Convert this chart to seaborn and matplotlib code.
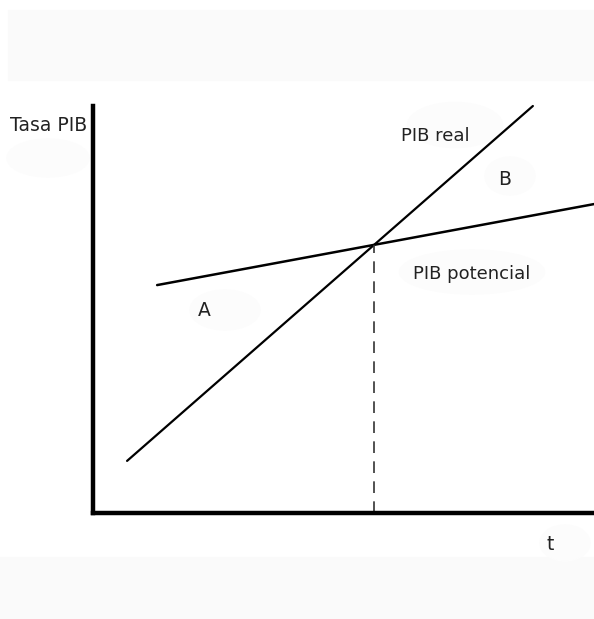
import matplotlib
matplotlib.use("Agg")
import matplotlib.pyplot as plt
from matplotlib.patches import Rectangle, Ellipse
import seaborn as sns

# curve endpoints (t, tasa)
t_real = [0.68, 8.78]
pib_real = [1.28, 10.0]
t_pot = [1.28, 10.0]
pib_pot = [5.60, 7.59]
# where the two cross
t_cross = 5.61
y_cross = 6.59

sns.set_style("white")
plt.rcParams['font.family'] = ['DejaVu Sans']

fig = plt.figure(figsize=(5.94, 6.19), dpi=100)
W, H = 594, 619

# faint grey bands from the scanned image
fig.add_artist(Rectangle((8 / W, 1 - 80 / H), 1 - 8 / W, 70 / H,
                         transform=fig.transFigure, color="#fafafa", zorder=0))
fig.add_artist(Rectangle((0, 0), 1, (H - 557) / H,
                         transform=fig.transFigure, color="#fafafa", zorder=0))
for cx, cy, w, h in [(48, 158, 82, 38), (455, 125, 95, 45), (510, 176, 50, 38),
                     (472, 272, 145, 44), (225, 310, 70, 40), (565, 543, 50, 36)]:
    fig.add_artist(Ellipse((cx / W, 1 - cy / H), w / W, h / H,
                           transform=fig.transFigure, color="#fcfcfc", zorder=0))

ax = fig.add_axes([93 / W, 1 - 513 / H, 1 - 93 / W, (513 - 60) / H])
ax.set_facecolor("none")

sns.lineplot(x=t_real, y=pib_real, color="black", linewidth=1.6, ax=ax)
sns.lineplot(x=t_pot, y=pib_pot, color="black", linewidth=1.8, ax=ax)
ax.plot([t_cross, t_cross], [0, y_cross], color="#333333", linewidth=1.2,
        dashes=(7, 5))

ax.set_xlim(0, 10)
ax.set_ylim(0, (513 - 60) / 40.7)
for s in ["top", "right"]:
    ax.spines[s].set_visible(False)
for s in ["left", "bottom"]:
    ax.spines[s].set_linewidth(3.2)
    ax.spines[s].set_color("black")
ax.spines["left"].set_bounds(0, 10.0)
ax.set_xticks([])
ax.set_yticks([])

tc = "#222222"
ax.text(-1.657, 9.39, "Tasa PIB", fontsize=13.5, color=tc, va="baseline", clip_on=False)
ax.text(6.15, 9.14, "PIB real", fontsize=13, color=tc, va="baseline")
ax.text(8.08, 8.06, "B", fontsize=13.5, color=tc, va="baseline")
ax.text(6.39, 5.75, "PIB potencial", fontsize=13, color=tc, va="baseline")
ax.text(2.10, 4.84, "A", fontsize=13.5, color=tc, va="baseline")
ax.text(9.06, -0.91, "t", fontsize=13.5, color=tc, va="baseline", clip_on=False)

fig.savefig("out.png", dpi=100)
